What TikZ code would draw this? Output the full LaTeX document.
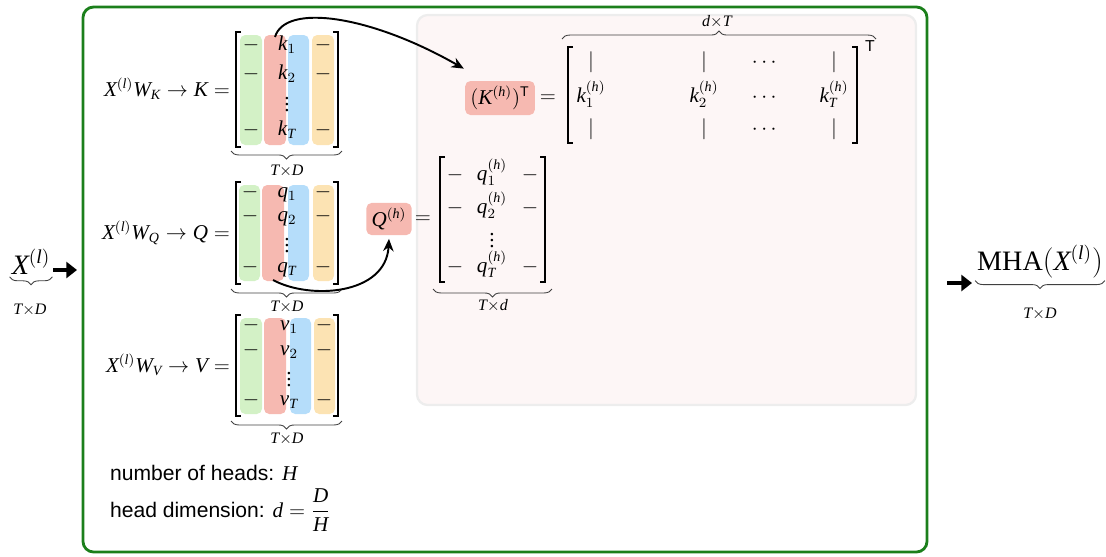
\documentclass[tikz,border=0pt]{standalone}
\usepackage{amsmath}
\usepackage{fontspec}
\setmainfont{Liberation Serif}
\setsansfont{Liberation Sans}
\DeclareSymbolFont{letters}{TU}{\rmdefault}{m}{it}
\DeclareSymbolFont{operators}{TU}{\rmdefault}{m}{n}
\newcommand{\tightvdots}{\vbox{\baselineskip=3.4pt\lineskiplimit=0pt\hbox{.}\hbox{.}\hbox{.}}}
\definecolor{cframe}{HTML}{1B7F1B}
\definecolor{cgreen}{HTML}{D3F1C6}
\definecolor{cred}{HTML}{F6B9B1}
\definecolor{cblue}{HTML}{B5DDFA}
\definecolor{corange}{HTML}{FCE3B3}
\definecolor{cpanel}{HTML}{FDF6F6}
\definecolor{cpanelline}{HTML}{EDEDED}
\usetikzlibrary{arrows.meta}
\usetikzlibrary{decorations.pathreplacing}

\begin{document}
\begin{tikzpicture}[x=0.02cm, y=-0.02cm,
	every node/.style={font=\fontsize{12}{14}\selectfont, inner sep=1pt},
	ent/.style={text height=1.6ex, text depth=0.3ex},
	dots/.style={inner sep=0pt},
	brk/.style={line width=0.75pt},
	hl/.style={fill=cred, rounded corners=3pt, inner sep=3pt},
	brace/.style={decorate, decoration={brace, amplitude=4.5pt}, line width=0.5pt, draw=black!75},
	dim/.style={font=\fontsize{13}{15}\selectfont},
	curv/.style={-{Stealth[length=7pt,width=6pt]}, line width=1.1pt},
	fat/.style={line width=2.6pt, -{Triangle[length=6pt,width=9pt]}}]

			\useasboundingbox (0,0) rectangle (1106,556);

			\draw[cframe, line width=1.6pt, rounded corners=6pt] (83,7) rectangle (927,552);
			\draw[cpanelline, fill=cpanel, line width=1.3pt, rounded corners=6pt] (417,15) rectangle (916,405);

			% input and output
			\node[font=\fontsize{16}{18}\selectfont] (xin) at (31,262) {$X^{(l)}$};
			\draw[brace] (xin.south east) -- (xin.south west);
			\node[dim] (xind) at (30,310) {$\scriptstyle T\times D$};
			\coordinate (a0) at (53,270);
			\coordinate (a1) at (77,270);
			\draw[fat] (a0) -- (a1);

			\node[font=\fontsize{16}{18}\selectfont] (mha) at (1040,262) {$\mathrm{MHA}(X^{(l)})$};
			\draw[brace] (mha.south east) -- (mha.south west);
			\node[dim] (mhad) at (1040,314) {$\scriptstyle T\times D$};
			\coordinate (b0) at (947,283);
			\coordinate (b1) at (972,283);
			\draw[fat] (b0) -- (b1);

			% K
			\node[anchor=east] (klab) at (232,89) {$X^{(l)}W_K \to K =$};
			\fill[cgreen, rounded corners=3pt] (240,35) rectangle (262,145);
			\fill[cred, rounded corners=3pt] (264,35) rectangle (286,145);
			\fill[cblue, rounded corners=3pt] (288,35) rectangle (309,145);
			\fill[corange, rounded corners=3pt] (312,35) rectangle (334,145);
			\draw[brk] (241,32) -- (236,32) -- (236,147) -- (241,147);
			\draw[brk] (333,32) -- (338,32) -- (338,147) -- (333,147);
			\node[ent] (k1) at (287,45) {$k_1$};
			\node[ent] (k2) at (287,74) {$k_2$};
			\node[dots] (kd) at (287,105) {\tightvdots};
			\node[ent] (kT) at (287,130) {$k_T$};
			\node[ent] (kl1) at (251,45) {$-$};
			\node[ent] (kl2) at (251,74) {$-$};
			\node[ent] (kl3) at (251,130) {$-$};
			\node[ent] (kr1) at (323,45) {$-$};
			\node[ent] (kr2) at (323,74) {$-$};
			\node[ent] (kr3) at (323,130) {$-$};
			\draw[brace] (342,151) -- (231,151);
			\node[dim] (kdim) at (287,171) {$\scriptstyle T\times D$};
			\coordinate (kcol) at (275,37);

			% Q
			\node[anchor=east] (qlab) at (232,233) {$X^{(l)}W_Q \to Q =$};
			\fill[cgreen, rounded corners=3pt] (239,185) rectangle (260,281);
			\fill[cred, rounded corners=3pt] (262,185) rectangle (284,281);
			\fill[cblue, rounded corners=3pt] (288,185) rectangle (309,281);
			\fill[corange, rounded corners=3pt] (313,185) rectangle (334,281);
			\draw[brk] (241,182) -- (236,182) -- (236,284) -- (241,284);
			\draw[brk] (333,182) -- (338,182) -- (338,284) -- (333,284);
			\node[ent] (q1) at (287,192) {$q_1$};
			\node[ent] (q2) at (287,216) {$q_2$};
			\node[dots] (qd) at (287,246) {\tightvdots};
			\node[ent] (qT) at (287,267) {$q_T$};
			\node[ent] (ql1) at (250,192) {$-$};
			\node[ent] (ql2) at (250,216) {$-$};
			\node[ent] (ql3) at (250,267) {$-$};
			\node[ent] (qr1) at (323,192) {$-$};
			\node[ent] (qr2) at (323,216) {$-$};
			\node[ent] (qr3) at (323,267) {$-$};
			\draw[brace] (342,289) -- (231,289);
			\node[dim] (qdim) at (287,307) {$\scriptstyle T\times D$};
			\coordinate (qcol) at (273,280);

			% V
			\node[anchor=east] (vlab) at (232,365) {$X^{(l)}W_V \to V =$};
			\fill[cgreen, rounded corners=3pt] (240,318) rectangle (262,414);
			\fill[cred, rounded corners=3pt] (264,318) rectangle (286,414);
			\fill[cblue, rounded corners=3pt] (290,318) rectangle (311,414);
			\fill[corange, rounded corners=3pt] (314,318) rectangle (335,414);
			\draw[brk] (241,315) -- (236,315) -- (236,416) -- (241,416);
			\draw[brk] (333,315) -- (338,315) -- (338,416) -- (333,416);
			\node[ent] (v1) at (289,325) {$v_1$};
			\node[ent] (v2) at (289,350) {$v_2$};
			\node[dots] (vd) at (289,380) {\tightvdots};
			\node[ent] (vT) at (289,400) {$v_T$};
			\node[ent] (vl1) at (251,325) {$-$};
			\node[ent] (vl2) at (251,350) {$-$};
			\node[ent] (vl3) at (251,400) {$-$};
			\node[ent] (vr1) at (324,325) {$-$};
			\node[ent] (vr2) at (324,350) {$-$};
			\node[ent] (vr3) at (324,400) {$-$};
			\draw[brace] (342,421) -- (231,421);
			\node[dim] (vdim) at (287,439) {$\scriptstyle T\times D$};

			% one head of Q
			\node[hl] (qh) at (389,219) {$Q^{(h)}$};
			\node (qeq) at (423,220) {$=$};
			\draw[brk] (445,157) -- (440,157) -- (440,282) -- (445,282);
			\draw[brk] (540,157) -- (545,157) -- (545,282) -- (540,282);
			\node[ent] (qh1) at (492,175) {$q_1^{(h)}$};
			\node[ent] (qh2) at (492,208) {$q_2^{(h)}$};
			\node[dots] (qhd) at (492,241) {\tightvdots};
			\node[ent] (qhT) at (492,267) {$q_T^{(h)}$};
			\node[ent] (qhl1) at (455,175) {$-$};
			\node[ent] (qhl2) at (455,208) {$-$};
			\node[ent] (qhl3) at (455,267) {$-$};
			\node[ent] (qhr1) at (530,175) {$-$};
			\node[ent] (qhr2) at (530,208) {$-$};
			\node[ent] (qhr3) at (530,267) {$-$};
			\draw[brace] (552,289) -- (433,289);
			\node[dim] (qhdim) at (493,306) {$\scriptstyle T\times d$};

			% one head of K, transposed
			\node[hl] (kh) at (500,98) {$(K^{(h)})^{\mathsf{T}}$};
			\node (keq) at (548,99) {$=$};
			\draw[brk] (573,47) -- (568,47) -- (568,143) -- (573,143);
			\draw[brk] (852,47) -- (857,47) -- (857,143) -- (852,143);
			\node[ent] (kc1a) at (591,62) {$|$};
			\node[ent] (kc1b) at (591,97) {$k_1^{(h)}$};
			\node[ent] (kc1c) at (591,129) {$|$};
			\node[ent] (kc2a) at (704,62) {$|$};
			\node[ent] (kc2b) at (704,97) {$k_2^{(h)}$};
			\node[ent] (kc2c) at (704,129) {$|$};
			\node[ent] (kc3a) at (766,62) {$\cdots$};
			\node[ent] (kc3b) at (766,97) {$\cdots$};
			\node[ent] (kc3c) at (766,129) {$\cdots$};
			\node[ent] (kc4a) at (834,62) {$|$};
			\node[ent] (kc4b) at (834,97) {$k_T^{(h)}$};
			\node[ent] (kc4c) at (834,129) {$|$};
			\node[font=\fontsize{9}{10}\selectfont] (ktop) at (870,46) {$\mathsf{T}$};
			\draw[brace] (562,39) -- (876,39);
			\node[dim] (khdim) at (717,22) {$\scriptstyle d\times T$};

			\draw[curv] (kcol) .. controls (285,3) and (370,15) .. ([shift={(-1,-12)}]kh.north west);
			\draw[curv] (qcol) .. controls (310,300) and (386,295) .. ([yshift=-2pt]qh.south);

			\node[anchor=base west, font=\fontsize{12}{14}\selectfont\sffamily] (nh) at (108,480) {number of heads: $H$};
			\node[anchor=base west, font=\fontsize{12}{14}\selectfont\sffamily] (hd) at (108,517) {head dimension: $d = \dfrac{D}{H}$};

		\end{tikzpicture}
\end{document}
